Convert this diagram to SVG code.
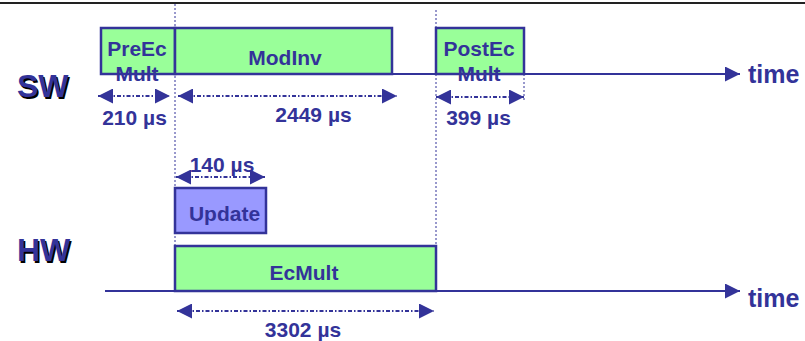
<svg xmlns="http://www.w3.org/2000/svg" width="805" height="341" viewBox="0 0 805 341">
  <defs>
    <marker id="head" viewBox="0 0 15 15" refX="15" refY="7.5" markerWidth="15" markerHeight="15" markerUnits="userSpaceOnUse" orient="auto-start-reverse">
      <path d="M0,0 L15,7.5 L0,15 Z" fill="#333399"/>
    </marker>
    <style>
      text { font-family: "Liberation Sans", Arial, sans-serif; font-weight: bold; fill: #333399; }
      .lbl { font-size: 21px; text-anchor: middle; }
      .axis { font-size: 25px; }
      .big { font-size: 32px; }
      .shadow { fill: #000000; }
      .task { fill: #99ff99; stroke: #333399; stroke-width: 2.5; }
      .upd { fill: #9999ff; stroke: #333399; stroke-width: 2.5; }
      .timeline { stroke: #333399; stroke-width: 2; fill: none; }
      .guide { stroke: #333399; stroke-width: 1; stroke-dasharray: 2 2; fill: none; }
      .dim { stroke: #333399; stroke-width: 2; stroke-dasharray: 4 2 1.5 2; fill: none; }
    </style>
  </defs>

  <rect width="805" height="341" fill="#ffffff"/>
  <!-- header rule -->
  <line x1="0" y1="3" x2="805" y2="3" stroke="#222222" stroke-width="2"/>

  <!-- lane labels -->
  <g id="lane-sw">
    <text class="big shadow" x="18.5" y="98.5">SW</text>
    <text class="big" x="17" y="97">SW</text>
  </g>
  <g id="lane-hw">
    <text class="big shadow" x="18.5" y="262.5">HW</text>
    <text class="big" x="17" y="261">HW</text>
  </g>

  <g id="connectors">
    <!-- time axes -->
    <line class="timeline" x1="101" y1="74" x2="740" y2="74" marker-end="url(#head)"/>
    <line class="timeline" x1="105" y1="291" x2="740" y2="291" marker-end="url(#head)"/>
    <!-- alignment guides -->
    <line class="guide" x1="175" y1="4" x2="175" y2="246"/>
    <line class="guide" x1="436" y1="10" x2="436" y2="246"/>
    <line class="guide" x1="524" y1="74" x2="524" y2="102"/>
    <!-- duration dimensions -->
    <line class="dim" x1="98" y1="96" x2="170" y2="96" marker-start="url(#head)" marker-end="url(#head)"/>
    <line class="dim" x1="178" y1="96" x2="397" y2="96" marker-start="url(#head)" marker-end="url(#head)"/>
    <line class="dim" x1="436" y1="97" x2="524" y2="97" marker-start="url(#head)" marker-end="url(#head)"/>
    <line class="dim" x1="176" y1="177" x2="265" y2="177" marker-start="url(#head)" marker-end="url(#head)"/>
    <line class="dim" x1="177" y1="311" x2="434" y2="311" marker-start="url(#head)" marker-end="url(#head)"/>
  </g>

  <!-- software tasks -->
  <g id="preecmult">
    <rect class="task" x="101" y="28" width="74" height="46"/>
    <text class="lbl" x="137" y="55.5">PreEc</text>
    <text class="lbl" x="137" y="80.5">Mult</text>
  </g>
  <g id="modinv">
    <rect class="task" x="175" y="28" width="217" height="46"/>
    <text class="lbl" x="285" y="65">ModInv</text>
  </g>
  <g id="postecmult">
    <rect class="task" x="436" y="28" width="88" height="46"/>
    <text class="lbl" x="479" y="55.5">PostEc</text>
    <text class="lbl" x="479" y="80.5">Mult</text>
  </g>

  <!-- hardware tasks -->
  <g id="update">
    <rect class="upd" x="175" y="188" width="91" height="45"/>
    <text class="lbl" x="224.5" y="220.5">Update</text>
  </g>
  <g id="ecmult">
    <rect class="task" x="175" y="246" width="261" height="45"/>
    <text class="lbl" x="304" y="280">EcMult</text>
  </g>

  <!-- durations -->
  <g id="durations">
    <text class="lbl" x="134.5" y="125">210 µs</text>
    <text class="lbl" x="313.5" y="122">2449 µs</text>
    <text class="lbl" x="478.5" y="125">399 µs</text>
    <text class="lbl" x="222" y="171.5">140 µs</text>
    <text class="lbl" x="303" y="336.5">3302 µs</text>
  </g>

  <!-- axis labels -->
  <g id="axis-labels">
    <text class="axis" x="748" y="82.5">time</text>
    <text class="axis" x="748" y="307">time</text>
  </g>
</svg>
